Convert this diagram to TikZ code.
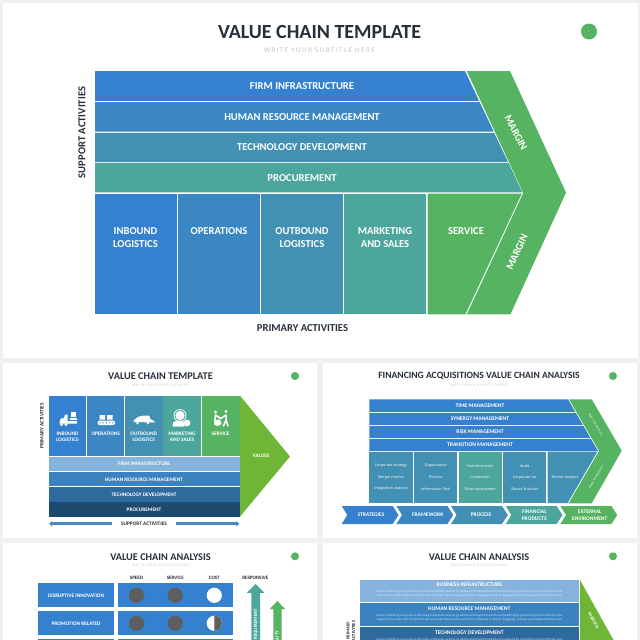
\documentclass[tikz,border=0pt]{standalone}
\usepackage{fontspec}
\usetikzlibrary{arrows.meta}
\setmainfont{Open Sans}
\newfontfamily\lab{Carlito}
\newfontfamily\subfont[LetterSpace=22]{Open Sans}
\definecolor{pagebg}{HTML}{F0F0F0}
\definecolor{ca}{HTML}{3681CF}
\definecolor{cb}{HTML}{3A87C3}
\definecolor{cc}{HTML}{4291B4}
\definecolor{cd}{HTML}{4CA69B}
\definecolor{ce}{HTML}{56B361}
\definecolor{lime}{HTML}{6FB536}
\definecolor{ink}{HTML}{26303A}
\definecolor{sub}{HTML}{BDBDBD}
\definecolor{na}{HTML}{85B3DC}
\definecolor{nb}{HTML}{3A82C0}
\definecolor{nc}{HTML}{2E6A9E}
\definecolor{nd}{HTML}{1D4A6F}
\definecolor{dot}{HTML}{5E5E5E}
\definecolor{arrowblue}{HTML}{4A86C0}
\newcommand{\fs}[2]{\fontsize{#1}{#2}\selectfont}
\newcommand{\fsl}[1]{\fontsize{#1}{#1}\selectfont\baselineskip=1.2\baselineskip}
\tikzset{
  wl/.style={text=white,inner sep=0pt,align=center,font=\lab\bfseries\fsl{#1}},
  wl/.default=5,
  mainl/.style={text=white,inner sep=0pt,align=center,font=\lab\bfseries\fs{10.6}{12.7}},
  ttl/.style={text=ink,inner sep=0pt,font=\lab\bfseries\fs{#1}{#1}},
  sbt/.style={text=sub,inner sep=0pt,font=\subfont\fs{#1}{#1}},
  dkl/.style={text=ink,inner sep=0pt,align=center,font=\lab\bfseries\fsl{#1}},
  small/.style={text=white,inner sep=0pt,align=center,font=\fs{3.7}{4}},
  tiny/.style={text=white,text opacity=.85,inner sep=0pt,font=\fs{2.95}{3}},
  badge/.style={circle,fill=ce,inner sep=0pt,minimum size=#1,text=white,font=\fs{3}{3}},
  panel/.style={fill=white,draw=none},
}
\begin{document}
\begin{tikzpicture}[x=1pt,y=-1pt]
\useasboundingbox (0,0) rectangle (640,640);
\clip (0,0) rectangle (640,640);
\fill[pagebg] (0,0) rectangle (640,640);
\path[panel] (2.5,3) rectangle (637.5,358);
\path[panel] (3,362.5) rectangle (317,538);
\path[panel] (323,362.5) rectangle (637,538);
\path[panel] (3,542.5) rectangle (317,640);
\path[panel] (323,542.5) rectangle (637,640);

% ---------- main slide ----------
\node[ttl=20] (t1) at (319.5,32) {VALUE CHAIN TEMPLATE};
\node[sbt=6.3] (s1) at (319.5,50) {WRITE YOUR SUBTITLE HERE};
\node[badge=16pt] (b1) at (589,31.5) {1};
\fill[ca] (95,71) -- (465,71) -- (479,100.8) -- (95,100.8) -- cycle;
\fill[cb] (95,102) -- (479.6,102) -- (493.7,131.6) -- (95,131.6) -- cycle;
\fill[cc] (95,132.8) -- (494.2,132.8) -- (508,162) -- (95,162) -- cycle;
\fill[cd] (95,163) -- (508.6,163) -- (522.4,192.4) -- (95,192.4) -- cycle;
\fill[ca] (95,193.6) rectangle (176.8,314.4);
\fill[cb] (178,193.6) rectangle (259.8,314.4);
\fill[cc] (261,193.6) rectangle (343,314.4);
\fill[cd] (344.4,193.6) rectangle (426.4,314.4);
\fill[ce] (427.6,193.6) -- (521.8,193.6) -- (465.4,314.4) -- (427.6,314.4) -- cycle;
\fill[ce] (466.8,71) -- (510,71) -- (566,192.6) -- (510.4,314.4) -- (466.8,314.4) -- (523.2,193) -- cycle;
\node[mainl] (m1) at (302,86.5) {FIRM INFRASTRUCTURE};
\node[mainl] (m2) at (302,117) {HUMAN RESOURCE MANAGEMENT};
\node[mainl] (m3) at (302,147.5) {TECHNOLOGY DEVELOPMENT};
\node[mainl] (m4) at (302,177.8) {PROCUREMENT};
\node[mainl] (m5) at (135.5,237.5) {INBOUND\\LOGISTICS};
\node[mainl] (m6) at (219,231.3) {OPERATIONS};
\node[mainl] (m7) at (302,237.5) {OUTBOUND\\LOGISTICS};
\node[mainl] (m8) at (385,237.5) {MARKETING\\AND SALES};
\node[mainl] (m9) at (466,231.3) {SERVICE};
\node[mainl,rotate=-63] (m10) at (516,132.5) {MARGIN};
\node[mainl,rotate=65] (m11) at (517,252) {MARGIN};
\node[dkl=10.6,rotate=90] (m12) at (82,132.5) {SUPPORT ACTIVITIES};
\node[dkl=10.6] (m13) at (302.5,328.5) {PRIMARY ACTIVITIES};

% ---------- value chain template ----------
\node[ttl=10.3] (t2) at (160.5,376.3) {VALUE CHAIN TEMPLATE};
\node[sbt=3.2] (s2) at (160.5,385) {WRITE YOUR SUBTITLE HERE};
\node[badge=8pt] (b2) at (295,376) {};
\fill[ca] (48.7,395.7) rectangle (86.3,456);
\fill[cb] (87,395.7) rectangle (124.4,456);
\fill[cc] (125,395.7) rectangle (162.6,456);
\fill[cd] (163.4,395.7) rectangle (201,456);
\fill[ce] (201.6,395.7) rectangle (239.5,456);
\fill[na] (48.7,456.8) rectangle (239.5,471.4);
\fill[nb] (48.7,472) rectangle (239.5,486.2);
\fill[nc] (48.7,487) rectangle (239.5,501.6);
\fill[nd] (48.7,502.2) rectangle (239.5,516.6);
\fill[lime] (240,395.7) -- (290,456.5) -- (240,516.6) -- cycle;
% icons
\begin{scope}[white]
 % forklift
 \fill (59.5,422) -- (61,418.5) -- (64,418) -- (65,414.5) -- (67.5,414.5) -- (67.5,421) -- (77,421) -- (77,423.5) -- (59.5,423.5) -- cycle;
 \fill (70,418) rectangle (76.5,420.3);
 \fill (71,412) rectangle (76,417.3);
 \fill (61.5,424.5) circle (1.6) (66,424.5) circle (1.6);
 % conveyor
 \fill (99.5,415) rectangle (105,419.5) (107,415) rectangle (112.5,419.5);
 \fill[rounded corners=1.5pt] (97.7,420.5) rectangle (115,425);
 \fill[cb] (100,422.8) circle (.7) (103,422.8) circle (.7) (106.4,422.8) circle (.7) (109.8,422.8) circle (.7) (112.8,422.8) circle (.7);
 % truck
 \fill (133.5,422) -- (134.5,419.5) -- (139,416.5) -- (144,415.5) -- (149,415.5) -- (150.5,419) -- (154,421) -- (155,422.5) -- cycle;
 \fill (137.5,423) circle (1.3) (148,423) circle (1.3);
 % person
 \fill (180,415.5) circle (4.6);
 \draw[line width=.8pt] (180,415.5) circle (6);
 \fill (172.5,426.5) .. controls (172.5,420) and (177,420.5) .. (181,420.5) .. controls (184,420.5) and (184.5,422) .. (184.5,426.5) -- cycle;
 \fill (187,423) circle (3.4);
 % handshake / service
 \fill (215.5,412) circle (1.7) (226,411.5) circle (1.7);
 \draw[line width=1.5pt,line cap=round,line join=round] (215.5,415) -- (215,420) (215.5,415) -- (220.5,418.5) -- (226,415) -- (226,420) -- (223.5,426) (226,420) -- (228,426);
 \fill (214,420) -- (220,419.5) -- (221.5,424) -- (218,426) -- (214.5,425) -- cycle;
\end{scope}
\node[wl=5.3] (p1) at (67.5,436.8) {INBOUND\\LOGISTICS};
\node[wl=5.3] (p2) at (105.7,433.7) {OPERATIONS};
\node[wl=5.3] (p3) at (143.7,436.8) {OUTBOUND\\LOGISTICS};
\node[wl=5.3] (p4) at (182,436.8) {MARKETING\\AND SALES};
\node[wl=5.3] (p5) at (220.5,433.7) {SERVICE};
\node[wl=5.3] (p6) at (144,464) {FIRM INFRASTRUCTURE};
\node[wl=5.3] (p7) at (144,479.3) {HUMAN RESOURCE MANAGEMENT};
\node[wl=5.3] (p8) at (144,494.3) {TECHNOLOGY DEVELOPMENT};
\node[wl=5.3] (p9) at (144,509.3) {PROCUREMENT};
\node[wl=5.3] (p10) at (261,456) {VALUES};
\node[dkl=5.3,rotate=90] (p11) at (42,426) {PRIMARY ACTIVITIES};
\node[dkl=5.3] (p12) at (144,523.8) {SUPPORT ACTIVITIES};
\coordinate (ua) at (111.7,523.8);
\coordinate (ub) at (49,523.8);
\coordinate (uc) at (176.3,523.8);
\coordinate (ud) at (239.3,523.8);
\draw[arrowblue,line width=2.8pt,-{Latex[length=3pt,width=6pt]}] (ua) -- (ub);
\draw[arrowblue,line width=2.8pt,-{Latex[length=3pt,width=6pt]}] (uc) -- (ud);

% ---------- financing ----------
\node[ttl=9.6] (t3) at (479,376.3) {FINANCING ACQUISITIONS VALUE CHAIN ANALYSIS};
\node[sbt=3.2] (s3) at (479,385) {WRITE YOUR SUBTITLE HERE};
\node[badge=8pt] (b3) at (613,376) {};
\fill[ca] (369.3,399.3) -- (568,399.3) -- (575.2,411.8) -- (369.3,411.8) -- cycle;
\fill[ca] (369.3,412.8) -- (575.8,412.8) -- (582.8,424.8) -- (369.3,424.8) -- cycle;
\fill[ca] (369.3,425.8) -- (583.4,425.8) -- (590.5,438) -- (369.3,438) -- cycle;
\fill[ca] (369.3,439) -- (591,439) -- (598,451) -- (369.3,451) -- cycle;
\fill[cc] (369.3,451.7) rectangle (413,503);
\fill[cc] (414,451.7) rectangle (457.3,503);
\fill[cd] (458.6,451.7) rectangle (501.8,503);
\fill[cc] (503,451.7) rectangle (546.2,503);
\fill[cc] (547.6,451.7) -- (597.4,451.7) -- (567.6,503) -- (547.6,503) -- cycle;
\fill[ce] (569,399.3) -- (591.7,399.3) -- (621.7,450.7) -- (591.7,503.3) -- (568.6,503.3) -- (599,451) -- cycle;
\node[wl=5.6] (f1) at (480,405.4) {TIME MANAGEMENT};
\node[wl=5.6] (f2) at (480,418.7) {SYNERGY MANAGEMENT};
\node[wl=5.6] (f3) at (480,431.7) {RISK MANAGEMENT};
\node[wl=5.6] (f4) at (480,444.7) {TRANSITION MANAGEMENT};
\foreach \nm/\cx/\ya/\yb/\yc in {a/391/Corporate strategy/Merger metrics/Integration analysis,
  b/435.7/Organization/Process/Information Tech,
  c/480/Transformation/Conversion/Other assessment,
  d/524.7/Audit/Corporate tax/Shares \& stocks}{
  \node[small] (g\nm1) at (\cx,465.8) {\ya};
  \node[small] (g\nm2) at (\cx,477.4) {\yb};
  \node[small] (g\nm3) at (\cx,489) {\yc};
}
\node[small] (ge2) at (565,477.4) {Market analysis};
\node[small,font=\fs{3}{3},rotate=-60] (f5) at (596,425) {Basic Transactions};
\node[small,font=\fs{3}{3},rotate=60] (f6) at (596,477) {Basic Transactions};
\foreach \nm/\xa/\col in {a/341.7/ca,b/396.4/cb,c/451/cc,d/505.7/cd,e/560.4/ce}{
  \fill[\col] (\xa,506) -- ({\xa+51},506) -- ({\xa+56.8},515) -- ({\xa+51},524) -- (\xa,524) -- ({\xa+5.6},515) -- cycle;
}
\node[wl=5.5] (h1) at (371,515) {STRATEGIES};
\node[wl=5.5] (h2) at (427.7,515) {FRAMEWORK};
\node[wl=5.5] (h3) at (481,515) {PROCESS};
\node[wl=5.5] (h4) at (534.3,515) {FINANCIAL\\PRODUCTS};
\node[wl=5.5] (h5) at (589.7,515) {EXTERNAL\\ENVIRONMENT};

% ---------- value chain analysis, left ----------
\node[ttl=10.3] (t4) at (160.5,556.7) {VALUE CHAIN ANALYSIS};
\node[sbt=3.2] (s4) at (160.5,565.5) {WRITE YOUR SUBTITLE HERE};
\node[badge=8pt] (b4) at (295,556.3) {};
\node[dkl=5] (k1) at (136.5,578.3) {SPEED};
\node[dkl=5] (k2) at (175.3,578.3) {SERVICE};
\node[dkl=5] (k3) at (214.3,578.3) {COST};
\node[dkl=5] (k4) at (255.3,578.3) {RESPONSIVE};
\fill[ca] (37.7,583.3) rectangle (114.3,607.3);
\fill[ca] (117.7,583.3) rectangle (233.3,607.3);
\fill[ca] (37.7,611.3) rectangle (114.3,635);
\fill[ca] (117.7,611.3) rectangle (233.3,635);
\fill[ca] (37.7,639) rectangle (114.3,640);
\fill[ca] (117.7,639) rectangle (233.3,640);
\node[wl=5.3] (k5) at (76,595.3) {DISRUPTIVE INNOVATION};
\node[wl=5.3] (k6) at (76,623.3) {PROMOTION RELATED};
\fill[dot] (136.5,595.3) circle (7.6) (175.3,595.3) circle (7.6);
\fill[white] (214.3,595.3) circle (7.6);
\fill[dot] (136.5,623.3) circle (7.6) (175.3,623.3) circle (7.6);
\fill[white] (214.3,623.3) circle (7.6);
\fill[dot] (214.3,615.7) arc[start angle=-90,end angle=90,radius=7.6] -- cycle;
\fill[cd] (255.6,584) -- (264.4,592.8) -- (260,592.8) -- (260,640) -- (251.4,640) -- (251.4,592.8) -- (246.8,592.8) -- cycle;
\fill[ce] (277.4,601) -- (285,609) -- (281.6,609) -- (281.6,640) -- (273.3,640) -- (273.3,609) -- (269.8,609) -- cycle;
\node[wl=5,rotate=90,anchor=east] (k7) at (255.7,608.5) {REQUIREMENT};
\node[wl=5,rotate=90,anchor=east] (k8) at (277.4,630.5) {QUALITY};

% ---------- value chain analysis, right ----------
\node[ttl=10.3] (t5) at (479,556.7) {VALUE CHAIN ANALYSIS};
\node[sbt=3.2] (s5) at (479,565.5) {WRITE YOUR SUBTITLE HERE};
\node[badge=8pt] (b5) at (613,556.3) {};
\fill[na] (360,579.8) rectangle (579.3,602);
\fill[nb] (360,603.3) rectangle (579.3,625.8);
\fill[nc] (360,627) rectangle (579.3,640);
\fill[lime] (580,580) -- (613.5,640) -- (580,640) -- cycle;
\node[wl=5.6] (r1) at (469.3,585) {BUSINESS INFRASTRUCTURE};
\node[tiny] (r2) at (469.3,591.7) {Green marketing is a practice whereby companies seek to go above and beyond traditional marketing by promoting environmental core};
\node[tiny] (r3) at (469.3,596.2) {values in the hope that consumers will associate these values with their company or brand. Engaging in these sustainable activities can};
\node[wl=5.6] (r4) at (469.3,609) {HUMAN RESOURCE MANAGEMENT};
\node[tiny] (r5) at (469.3,615.7) {Green marketing is a practice whereby companies seek to go above and beyond traditional marketing by promoting environmental core};
\node[tiny] (r6) at (469.3,620.2) {values in the hope that consumers will associate these values with their company or brand. Engaging in these sustainable activities can};
\node[wl=5.6] (r7) at (469.3,632.7) {TECHNOLOGY DEVELOPMENT};
\node[tiny] (r8) at (469.3,639.4) {Green marketing is a practice whereby companies seek to go above and beyond traditional marketing by promoting environmental core};
\node[wl=4.8,rotate=-60] (r9) at (593.5,620.5) {MARGIN};
\node[dkl=4.6,rotate=90] (r10) at (351,631) {PRIMARY\\ACTIVITIES};
\end{tikzpicture}
\end{document}
